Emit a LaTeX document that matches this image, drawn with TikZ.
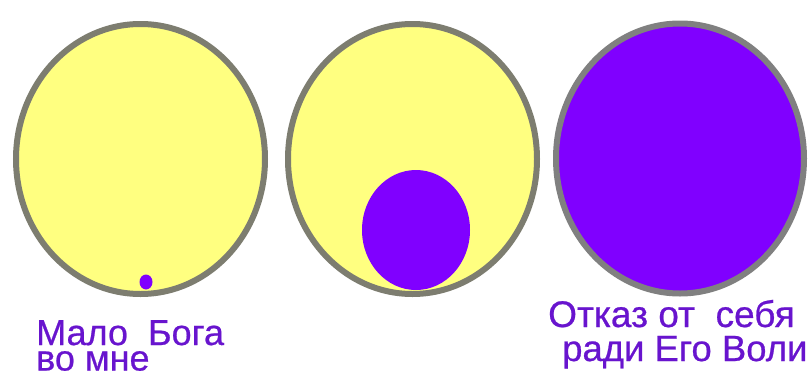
\documentclass[tikz,border=0pt]{standalone}
\usepackage{fontspec}
\setmainfont{Liberation Sans}
\newfontfamily\capfont[FakeBold=0.6]{Liberation Sans}
\usetikzlibrary{shapes.geometric}
\definecolor{ringgray}{RGB}{125,125,112}
\definecolor{ringgrayb}{RGB}{128,128,128}
\definecolor{paleyellow}{RGB}{255,255,128}
\definecolor{violet}{RGB}{128,0,255}
\definecolor{labelviolet}{RGB}{104,20,206}
\tikzset{
  bigring/.style={ellipse, draw=ringgray, line width=6pt, fill=paleyellow, inner sep=0pt, minimum width=249pt, minimum height=270pt},
  blob/.style={ellipse, fill=violet, inner sep=0pt},
  caption/.style={anchor=base west, inner sep=0pt, text=labelviolet, font=\capfont\fontsize{36}{36}\selectfont}
}
\begin{document}
\begin{tikzpicture}[x=1pt,y=-1pt]
\fill[white] (0,0) rectangle (812,381);
\useasboundingbox (0,0) rectangle (812,381);
\node[bigring] (r1) at (140.5,159) {};
\node[blob, minimum width=13pt, minimum height=15pt] (d1) at (146,282) {};
\node[bigring] (r2) at (412.5,159) {};
\node[blob, minimum width=108pt, minimum height=120pt] (d2) at (416,230) {};
\node[bigring, fill=violet, draw=ringgrayb, minimum width=248pt] (r3) at (680,158.5) {};
\node[caption, align=left, font=\capfont\fontsize{36}{25.5}\selectfont] (t1) at (36,370.5) {Мало\ \ Бога\\во мне};
\node[caption, text depth=0pt, font=\capfont\fontsize{37}{37}\selectfont] (t3) at (548,327) {Отказ от\ \ себя};
\node[caption, font=\capfont\fontsize{36.5}{36.5}\selectfont] (t4) at (562,361) {ради Его Воли};
\end{tikzpicture}
\end{document}
